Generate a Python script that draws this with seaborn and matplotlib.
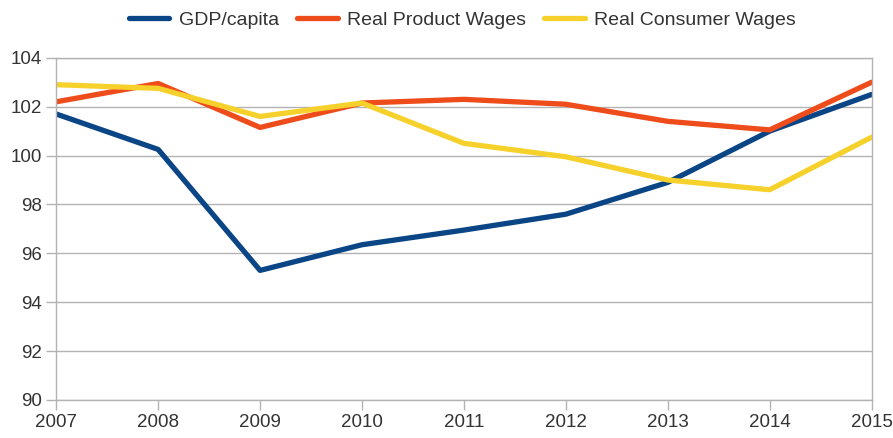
import matplotlib
matplotlib.use("Agg")
import matplotlib.pyplot as plt
import seaborn as sns
import pandas as pd

years = [2007, 2008, 2009, 2010, 2011, 2012, 2013, 2014, 2015]
gdp_capita = [101.7, 100.25, 95.3, 96.35, 96.95, 97.6, 98.9, 101.0, 102.5]
real_product_wages = [102.2, 102.95, 101.15, 102.15, 102.3, 102.1, 101.4, 101.05, 103.0]
real_consumer_wages = [102.9, 102.75, 101.6, 102.15, 100.5, 99.95, 99.0, 98.6, 100.75]
series_names = ["GDP/capita", "Real Product Wages", "Real Consumer Wages"]
colors = ["#0a4585", "#ee4c1a", "#f7d12b"]

df = pd.DataFrame({
    "year": years * 3,
    "value": gdp_capita + real_product_wages + real_consumer_wages,
    "series": [series_names[0]] * 9 + [series_names[1]] * 9 + [series_names[2]] * 9,
})

sns.set_theme(style="white")
plt.rcParams["font.family"] = ["Liberation Sans", "DejaVu Sans"]

fig, ax = plt.subplots(figsize=(8.93, 4.38), dpi=100)
fig.subplots_adjust(left=0.063, right=0.976, top=0.868, bottom=0.087)

sns.lineplot(data=df, x="year", y="value", hue="series", hue_order=series_names,
             palette=colors, linewidth=3.8, ax=ax, legend=True)

ax.set_xlim(2007, 2015)
ax.set_ylim(90, 104)
ax.set_xticks(years)
ax.set_yticks(range(90, 105, 2))
ax.set_xlabel("")
ax.set_ylabel("")
ax.grid(axis="y", color="#b3b3b3", linewidth=1)
ax.set_axisbelow(True)
for side in ["left", "bottom", "right", "top"]:
    ax.spines[side].set_color("#b3b3b3")
    ax.spines[side].set_linewidth(1)
ax.tick_params(axis="both", which="both", length=7, color="#b3b3b3", width=1,
               labelsize=13.5, labelcolor="#333333", direction="out",
               bottom=True, left=True)
ax.tick_params(axis="y", pad=3)
ax.tick_params(axis="x", pad=3)

handles, labels = ax.get_legend_handles_labels()
ax.legend(handles, labels, loc="lower center", bbox_to_anchor=(0.498, 1.062), ncol=3,
          frameon=False, fontsize=14, handlelength=2.1, columnspacing=0.9,
          handletextpad=0.5, labelcolor="#333333", borderaxespad=0)

fig.savefig("out.png", dpi=100)
